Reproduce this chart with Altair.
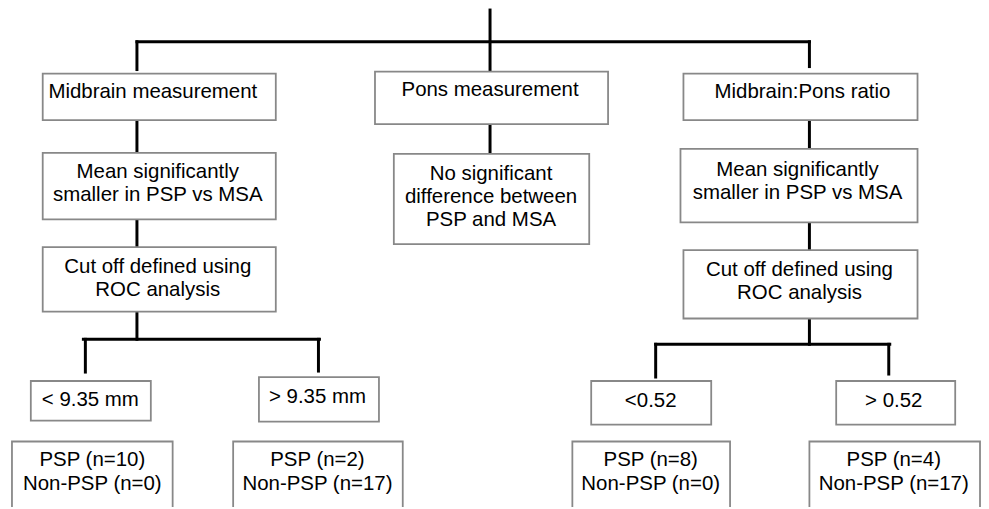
import altair as alt
import pandas as pd

# ---- content ----
box_labels = [
    ["Midbrain measurement"],
    ["Pons measurement"],
    ["Midbrain:Pons ratio"],
    ["Mean significantly", "smaller in PSP vs MSA"],
    ["No significant", "difference between", "PSP and MSA"],
    ["Mean significantly", "smaller in PSP vs MSA"],
    ["Cut off defined using", "ROC analysis"],
    ["Cut off defined using", "ROC analysis"],
    ["< 9.35 mm"],
    ["> 9.35 mm"],
    ["<0.52"],
    ["> 0.52"],
    ["PSP (n=10)", "Non-PSP (n=0)"],
    ["PSP (n=2)", "Non-PSP (n=17)"],
    ["PSP (n=8)", "Non-PSP (n=0)"],
    ["PSP (n=4)", "Non-PSP (n=17)"],
]

# ---- layout (pixel-like diagram coordinates) ----
box_x1 = [43, 378, 689, 43, 397, 686, 43, 689, 31, 261, 596, 843, 12, 235, 577, 816]
box_x2 = [278, 613, 925, 278, 594, 925, 278, 925, 152, 382, 717, 963, 174, 406, 736, 988]
box_y1 = [72, 70, 72, 152, 153, 148, 247, 250, 382, 378, 382, 382, 443, 443, 443, 443]
box_y2 = [119, 123, 119, 219, 244, 222, 312, 319, 422, 423, 426, 426, 530, 530, 530, 530]
text_cx = [154, 494, 809, 159, 495, 804, 159, 806, 91, 320, 656, 901, 93, 320, 656, 901]
text_y0 = [91, 89, 91, 171, 173, 169, 267, 270, 401, 398, 402, 402, 462, 462, 462, 462]
line_step = 23.5

seg_x1 = [494, 138, 138, 816, 138, 138, 494, 816, 816, 138, 84, 86, 321, 816, 661, 661, 896]
seg_y1 = [8, 40, 40, 40, 120, 220, 124, 120, 223, 313, 340, 340, 340, 320, 345, 345, 345]
seg_x2 = [494, 816, 138, 816, 138, 138, 494, 816, 816, 138, 322, 86, 321, 816, 897, 661, 896]
seg_y2 = [69, 40, 68, 65, 151, 247, 152, 147, 249, 340, 340, 373, 372, 345, 345, 378, 375]

boxes = pd.DataFrame({"x1": box_x1, "x2": box_x2, "y1": box_y1, "y2": box_y2})

rows = []
for i, lines in enumerate(box_labels):
    for j, t in enumerate(lines):
        rows.append({"t": t, "x": text_cx[i], "y": text_y0[i] + j * line_step})
texts = pd.DataFrame(rows)

segs = pd.DataFrame({"x1": seg_x1, "y1": seg_y1, "x2": seg_x2, "y2": seg_y2})

W, H = 981, 501
xs = alt.Scale(domain=[8, 8 + W], nice=False, zero=False)
ys = alt.Scale(domain=[8, 8 + H], nice=False, zero=False, reverse=True)

rects = alt.Chart(boxes).mark_rect(
    fill="white", stroke="#888888", strokeWidth=1.8, clip=True
).encode(
    x=alt.X("x1:Q", scale=xs, axis=None),
    x2="x2:Q",
    y=alt.Y("y1:Q", scale=ys, axis=None),
    y2="y2:Q",
)

rules = alt.Chart(segs).mark_rule(
    color="black", strokeWidth=3, strokeCap="square"
).encode(
    x=alt.X("x1:Q", scale=xs, axis=None),
    x2="x2:Q",
    y=alt.Y("y1:Q", scale=ys, axis=None),
    y2="y2:Q",
)

labels = alt.Chart(texts).mark_text(
    font="Liberation Sans", fontSize=20.6, color="#000000",
    align="center", baseline="middle",
).encode(
    x=alt.X("x:Q", scale=xs, axis=None),
    y=alt.Y("y:Q", scale=ys, axis=None),
    text="t:N",
)

chart = alt.layer(rules, rects, labels).properties(
    width=W, height=H, padding=0,
    autosize=alt.AutoSizeParams(type="none"),
).configure_view(stroke=None)

chart.save("out.html", embed_options={"renderer": "svg", "actions": False})
